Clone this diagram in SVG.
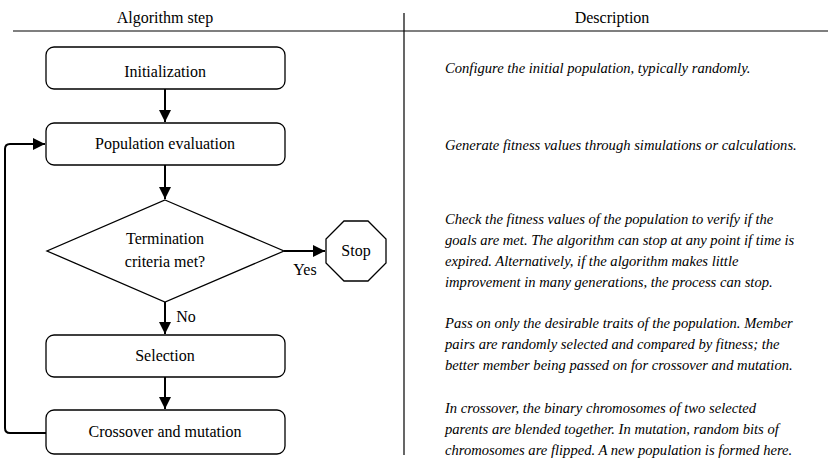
<svg xmlns="http://www.w3.org/2000/svg" width="832" height="465" viewBox="0 0 832 465">
<defs>
<marker id="ah" viewBox="0 0 10 10" refX="10" refY="5" markerWidth="6" markerHeight="6" orient="auto"><path d="M0,0 L10,5 L0,10 Z" fill="#000"/></marker>
</defs>
<style>
.t{font-size:16px;fill:#000;text-anchor:middle}
.d{font-size:14.6px;font-style:italic;fill:#000}
.box{fill:#fff;stroke:#000;stroke-width:1.3}
.c{fill:none;stroke:#000;stroke-width:2}
.rule{stroke:#000;stroke-width:1.2}
</style>
<rect width="832" height="465" fill="#fff"/>
<g id="table">
<line class="rule" x1="13" y1="31" x2="828" y2="31"/>
<line class="rule" x1="404" y1="13" x2="404" y2="455"/>
<text class="t" x="165" y="23" font-family="Times New Roman, Liberation Serif, serif">Algorithm step</text>
<text class="t" x="612" y="23" font-family="Times New Roman, Liberation Serif, serif">Description</text>
</g>
<g id="connectors">
<line class="c" x1="165" y1="89" x2="165" y2="122" marker-end="url(#ah)"/>
<line class="c" x1="165" y1="165" x2="165" y2="199" marker-end="url(#ah)"/>
<line class="c" x1="284" y1="251" x2="325" y2="251" marker-end="url(#ah)"/>
<line class="c" x1="165" y1="302" x2="165" y2="334" marker-end="url(#ah)"/>
<line class="c" x1="165" y1="377" x2="165" y2="409" marker-end="url(#ah)"/>
<path class="c" d="M46,433 H10 Q5,433 5,428 V149 Q5,144 10,144 H45" stroke-width="1.5" marker-end="url(#ah)"/>
<text class="t" x="305" y="275" font-family="Times New Roman, Liberation Serif, serif">Yes</text>
<text class="t" x="186" y="322" font-family="Times New Roman, Liberation Serif, serif">No</text>
</g>
<g id="init">
<rect class="box" x="46" y="47" width="239" height="42" rx="8"/>
<text class="t" x="165" y="77" font-family="Times New Roman, Liberation Serif, serif">Initialization</text>
</g>
<g id="eval">
<rect class="box" x="46" y="123" width="239" height="42" rx="8"/>
<text class="t" x="165" y="149" font-family="Times New Roman, Liberation Serif, serif">Population evaluation</text>
</g>
<g id="decision">
<polygon class="box" points="165,200 284,251 165,302 47,251"/>
<text class="t" x="165" y="244" font-family="Times New Roman, Liberation Serif, serif">Termination</text>
<text class="t" x="165" y="267" font-family="Times New Roman, Liberation Serif, serif">criteria met?</text>
</g>
<g id="stop">
<polygon class="box" points="344,221 368,221 386,239 386,263 368,281 344,281 326,263 326,239"/>
<text class="t" x="356" y="256" font-family="Times New Roman, Liberation Serif, serif">Stop</text>
</g>
<g id="selection">
<rect class="box" x="46" y="335" width="239" height="42" rx="8"/>
<text class="t" x="165" y="361" font-family="Times New Roman, Liberation Serif, serif">Selection</text>
</g>
<g id="crossover">
<rect class="box" x="46" y="410" width="239" height="44" rx="8"/>
<text class="t" x="165" y="437" font-family="Times New Roman, Liberation Serif, serif">Crossover and mutation</text>
</g>
<g id="descriptions">
<text class="d" x="445" y="73" font-family="Times New Roman, Liberation Serif, serif">Configure the initial population, typically randomly.</text>
<text class="d" x="445" y="150" font-family="Times New Roman, Liberation Serif, serif">Generate fitness values through simulations or calculations.</text>
<text class="d" x="445" y="224" font-family="Times New Roman, Liberation Serif, serif">Check the fitness values of the population to verify if the</text>
<text class="d" x="445" y="245" font-family="Times New Roman, Liberation Serif, serif">goals are met. The algorithm can stop at any point if time is</text>
<text class="d" x="445" y="266" font-family="Times New Roman, Liberation Serif, serif">expired. Alternatively, if the algorithm makes little</text>
<text class="d" x="445" y="287" font-family="Times New Roman, Liberation Serif, serif">improvement in many generations, the process can stop.</text>
<text class="d" x="445" y="328" font-family="Times New Roman, Liberation Serif, serif">Pass on only the desirable traits of the population. Member</text>
<text class="d" x="445" y="349" font-family="Times New Roman, Liberation Serif, serif">pairs are randomly selected and compared by fitness; the</text>
<text class="d" x="445" y="370" font-family="Times New Roman, Liberation Serif, serif">better member being passed on for crossover and mutation.</text>
<text class="d" x="445" y="413" font-family="Times New Roman, Liberation Serif, serif">In crossover, the binary chromosomes of two selected</text>
<text class="d" x="445" y="434" font-family="Times New Roman, Liberation Serif, serif">parents are blended together. In mutation, random bits of</text>
<text class="d" x="445" y="455" font-family="Times New Roman, Liberation Serif, serif">chromosomes are flipped. A new population is formed here.</text>
</g>
</svg>
